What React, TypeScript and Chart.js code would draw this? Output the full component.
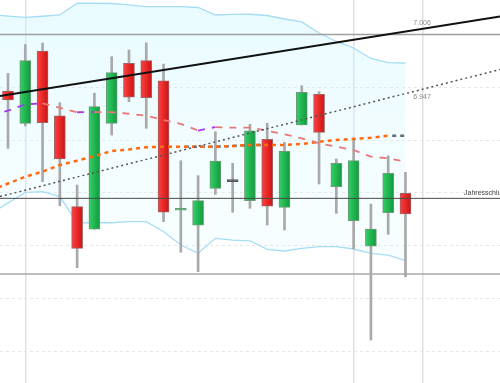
import { useEffect, useRef } from "react";
import { Chart, registerables } from "chart.js";

Chart.register(...registerables);

// ---- Candles (index 0..23) ----
const candleX = [0, 1, 2, 3, 4, 5, 6, 7, 8, 9, 10, 11, 12, 13, 14, 15, 16, 17, 18, 19, 20, 21, 22, 23];
const opens = [6.9464, 6.9158, 6.9844, 6.923, 6.8368, 6.8154, 6.9158, 6.9727, 6.9752, 6.9562, 6.8334, 6.8192, 6.8542, 6.8605, 6.8425, 6.9007, 6.8362, 6.9142, 6.9433, 6.8557, 6.8235, 6.7995, 6.8311, 6.8495];
const highs = [6.9632, 6.9905, 6.9919, 6.9354, 6.8573, 6.9443, 6.979, 6.9853, 6.9922, 6.972, 6.8804, 6.8662, 6.9079, 6.8779, 6.9149, 6.9158, 6.8978, 6.9515, 6.9458, 6.882, 6.9, 6.8393, 6.8851, 6.8694];
const lows = [6.8921, 6.9133, 6.8605, 6.8377, 6.779, 6.8154, 6.9047, 6.9363, 6.9111, 6.8226, 6.7936, 6.7752, 6.8485, 6.8315, 6.8353, 6.8194, 6.8147, 6.9142, 6.8583, 6.8305, 6.7967, 6.7104, 6.8106, 6.7704];
const closes = [6.9379, 6.9752, 6.9164, 6.882, 6.7973, 6.9316, 6.9638, 6.9405, 6.9401, 6.8315, 6.8353, 6.8425, 6.8801, 6.8605, 6.9088, 6.8374, 6.8893, 6.9452, 6.9073, 6.8779, 6.8804, 6.8156, 6.8684, 6.8299];

// ---- Indicator series (index -1..23) ----
const indX = [-1, 0, 1, 2, 3, 4, 5, 6, 7, 8, 9, 10, 11, 12, 13, 14, 15, 16, 17, 18, 19, 20, 21, 22, 23];
const bandUpper = [7.019, 7.0175, 7.0163, 7.0173, 7.0185, 7.0296, 7.0296, 7.0294, 7.028, 7.0265, 7.0265, 7.0265, 7.0256, 7.0185, 7.019, 7.0192, 7.018, 7.0147, 7.0119, 7.0014, 6.9934, 6.9872, 6.9773, 6.9733, 6.973];
const bandLower = [6.8299, 6.8403, 6.8504, 6.851, 6.8463, 6.8216, 6.8216, 6.8216, 6.8226, 6.8226, 6.8131, 6.8005, 6.7926, 6.8068, 6.8052, 6.8045, 6.7964, 6.7948, 6.7973, 6.7989, 6.7989, 6.7967, 6.7926, 6.791, 6.7856];
const maShort = [6.9237, 6.9278, 6.9338, 6.9348, 6.9306, 6.9263, 6.9265, 6.9263, 6.9249, 6.923, 6.919, 6.9152, 6.909, 6.9123, 6.9117, 6.9117, 6.9088, 6.9054, 6.9016, 6.8969, 6.8937, 6.8905, 6.8842, 6.8827, 6.8794];
const maOrange = [6.8521, 6.8588, 6.8652, 6.87, 6.8763, 6.8804, 6.8848, 6.8896, 6.891, 6.8931, 6.8937, 6.8937, 6.8937, 6.8937, 6.8943, 6.8953, 6.8953, 6.8953, 6.8962, 6.8984, 6.9, 6.901, 6.9022, 6.9041, null];
const maGray = [null, null, null, null, null, null, null, null, null, null, null, 6.8937, 6.8937, 6.8937, 6.8943, 6.8953, 6.8953, null, null, null, null, null, null, 6.9041, 6.9041];

// ---- Trend lines & levels ----
const xMin = -0.463;
const xMax = 28.47;
const trendSolid = [6.9417, 7.0171];
const trendDotted = [6.8464, 6.9668];
const levelTop = 7.0;
const levelYearEnd = 6.8447;
const levelBottom = 6.773;
const yMin = 6.6697;
const yMax = 7.0327;
const yGrid = [6.7, 6.75, 6.8, 6.85, 6.9, 6.95, 7.0];
const xGrid = [1, 20, 24];

const labelSolid = "7.006";
const labelDotted = "6.947";
const labelYearEnd = "Jahresschluss";

const pts = (xs: number[], ys: (number | null)[]) => xs.map((x, i) => ({ x, y: ys[i] }));

const textPlugin = {
  id: "texts",
  afterDatasetsDraw(chart: any) {
    const { ctx, scales } = chart;
    const xs = scales.x;
    const ys = scales.y;
    ctx.save();
    ctx.textBaseline = "middle";
    ctx.font = "7px 'Liberation Sans', Arial, sans-serif";
    ctx.fillStyle = "#8c8c8c";
    ctx.textAlign = "center";
    ctx.fillText(labelSolid, xs.getPixelForValue(23.96), ys.getPixelForValue(7.0106));
    ctx.fillText(labelDotted, xs.getPixelForValue(23.96), ys.getPixelForValue(6.941));
    ctx.fillStyle = "#444";
    ctx.textAlign = "left";
    ctx.fillText(labelYearEnd, xs.getPixelForValue(26.39), ys.getPixelForValue(6.8498));
    ctx.restore();
  },
};

export default function App() {
  const ref = useRef<HTMLCanvasElement>(null);
  useEffect(() => {
    if (!ref.current) return;
    const bodyColor = (c: any) => {
      const i = c.dataIndex;
      const o = opens[i];
      const cl = closes[i];
      if (o === cl) return "#555555";
      const up = cl > o;
      const chart = c.chart;
      const xs = chart.scales && chart.scales.x;
      if (!xs || !xs.width) return up ? "#1db04a" : "#e52222";
      const px = xs.getPixelForValue(candleX[i]);
      const g = chart.ctx.createLinearGradient(px - 5.5, 0, px + 5.5, 0);
      if (up) {
        g.addColorStop(0, "#34d068");
        g.addColorStop(1, "#109a3c");
      } else {
        g.addColorStop(0, "#ff4040");
        g.addColorStop(1, "#cc1212");
      }
      return g;
    };
    const bodyBorder = (c: any) => {
      const i = c.dataIndex;
      if (opens[i] === closes[i]) return "#555555";
      return closes[i] > opens[i] ? "#6b9a76" : "#a06262";
    };
    const bandFill = (c: any) => {
      const chart = c.chart;
      const area = chart.chartArea;
      if (!area) return "rgba(200,245,255,0.3)";
      const g = chart.ctx.createLinearGradient(0, area.top, 0, area.top + 260);
      g.addColorStop(0, "rgba(200,245,255,0.42)");
      g.addColorStop(1, "rgba(210,248,255,0.15)");
      return g;
    };
    const line = (data: any, color: string, width: number, dash: number[], order: number, extra: any = {}) => ({
      type: "line",
      data,
      borderColor: color,
      borderWidth: width,
      borderDash: dash,
      pointRadius: 0,
      tension: 0,
      fill: false,
      order,
      ...extra,
    });
    const chart = new Chart(ref.current, {
      type: "bar",
      data: {
        datasets: [
          line(pts(indX, bandUpper), "#a6dcf5", 1.3, [], 20, { fill: "+1", backgroundColor: bandFill }),
          line(pts(indX, bandLower), "#a6dcf5", 1.3, [], 19),
          {
            type: "bar",
            data: candleX.map((x, i) => ({ x, y: [lows[i], highs[i]] })),
            backgroundColor: "#a9a9a9",
            barThickness: 2,
            grouped: false,
            order: 10,
          },
          {
            type: "bar",
            data: candleX.map((x, i) => ({ x, y: [opens[i], closes[i]] })),
            backgroundColor: bodyColor,
            borderColor: bodyBorder,
            borderWidth: 1,
            borderSkipped: false,
            barThickness: 11,
            minBarLength: 2,
            grouped: false,
            order: 9,
          },
          line(pts([xMin, xMax], [levelTop, levelTop]), "#a0a0a0", 1.5, [], 8),
          line(pts([xMin, xMax], [levelBottom, levelBottom]), "#a8a8a8", 1.5, [], 8),
          line(pts([xMin, xMax], [levelYearEnd, levelYearEnd]), "#4a4a4a", 1, [], 7),
          line(pts(indX, maGray), "#6a6a6a", 2.5, [4, 4], 6, { borderDashOffset: 4, spanGaps: false }),
          line(pts(indX, maOrange), "#ff6a10", 2.5, [4, 4], 5, { spanGaps: false }),
          line(pts(indX, maShort), "#e87878", 1.8, [7, 7], 4, {
            segment: {
              borderColor: (s: any) => (s.p1.parsed.y > s.p0.parsed.y ? "#a53cf0" : "#e87878"),
            },
          }),
          line(pts([xMin, xMax], trendDotted), "#555555", 1.5, [2, 3], 3),
          line(pts([xMin, xMax], trendSolid), "#111111", 2, [], 2),
        ] as any,
      },
      options: {
        animation: false,
        responsive: false,
        devicePixelRatio: 1,
        layout: { padding: 0 },
        plugins: { legend: { display: false }, tooltip: { enabled: false } },
        scales: {
          x: {
            type: "linear",
            min: xMin,
            max: xMax,
            offset: false,
            afterBuildTicks: (a: any) => {
              a.ticks = xGrid.map((v) => ({ value: v }));
            },
            ticks: { display: false },
            grid: { color: "#e0e0e8", lineWidth: 1.5, drawTicks: false, offset: false },
            border: { display: false },
          },
          y: {
            type: "linear",
            min: yMin,
            max: yMax,
            afterBuildTicks: (a: any) => {
              a.ticks = yGrid.map((v) => ({ value: v }));
            },
            ticks: { display: false },
            grid: { color: "#e6e6e6", lineWidth: 1, drawTicks: false },
            border: { display: false, dash: [3, 3] },
          },
        },
      } as any,
      plugins: [textPlugin],
    });
    return () => chart.destroy();
  }, []);
  return (
    <div style={{ position: "fixed", left: 0, top: 0, width: 500, height: 383, background: "#fff" }}>
      <canvas ref={ref} width={500} height={383} style={{ display: "block", width: 500, height: 383 }} />
    </div>
  );
}
